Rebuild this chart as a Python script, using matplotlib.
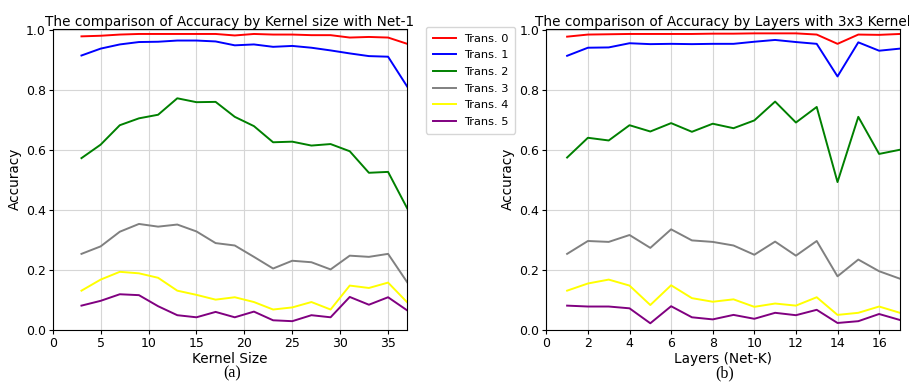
import matplotlib
matplotlib.use("Agg")
import matplotlib.pyplot as plt

# Kernel sizes (left panel) and layers (right panel)
kernel_sizes = [3, 5, 7, 9, 11, 13, 15, 17, 19, 21, 23, 25, 27, 29, 31, 33, 35, 37]
layers = list(range(1, 18))

series_names = ["Trans. 0", "Trans. 1", "Trans. 2", "Trans. 3", "Trans. 4", "Trans. 5"]
series_colors = ["red", "blue", "green", "gray", "yellow", "purple"]

# Accuracy by kernel size with Net-1
kernel_t0 = [0.980, 0.982, 0.986, 0.988, 0.988, 0.988, 0.988, 0.988, 0.983, 0.988,
             0.986, 0.986, 0.984, 0.984, 0.976, 0.978, 0.976, 0.955]
kernel_t1 = [0.916, 0.939, 0.953, 0.961, 0.962, 0.966, 0.966, 0.963, 0.950, 0.953,
             0.945, 0.948, 0.942, 0.933, 0.923, 0.914, 0.912, 0.812]
kernel_t2 = [0.573, 0.618, 0.683, 0.706, 0.718, 0.773, 0.760, 0.761, 0.711, 0.680,
             0.626, 0.628, 0.615, 0.620, 0.596, 0.524, 0.527, 0.405]
kernel_t3 = [0.253, 0.278, 0.327, 0.353, 0.344, 0.351, 0.328, 0.289, 0.281, 0.243,
             0.204, 0.230, 0.225, 0.201, 0.247, 0.243, 0.253, 0.158]
kernel_t4 = [0.130, 0.167, 0.193, 0.188, 0.173, 0.130, 0.116, 0.100, 0.108, 0.092,
             0.067, 0.074, 0.092, 0.067, 0.147, 0.139, 0.157, 0.091]
kernel_t5 = [0.080, 0.096, 0.118, 0.115, 0.078, 0.048, 0.041, 0.059, 0.041, 0.060,
             0.031, 0.028, 0.048, 0.041, 0.109, 0.083, 0.108, 0.064]

# Accuracy by layers with 3x3 kernel
layer_t0 = [0.979, 0.986, 0.987, 0.988, 0.988, 0.988, 0.988, 0.989, 0.989, 0.990,
            0.990, 0.990, 0.986, 0.955, 0.986, 0.985, 0.988]
layer_t1 = [0.915, 0.942, 0.943, 0.957, 0.954, 0.955, 0.954, 0.955, 0.955, 0.962,
            0.968, 0.961, 0.955, 0.846, 0.960, 0.932, 0.939]
layer_t2 = [0.575, 0.641, 0.632, 0.683, 0.662, 0.690, 0.661, 0.688, 0.673, 0.699,
            0.762, 0.692, 0.744, 0.493, 0.711, 0.587, 0.601]
layer_t3 = [0.253, 0.296, 0.293, 0.316, 0.273, 0.335, 0.298, 0.293, 0.281, 0.250,
            0.294, 0.247, 0.296, 0.178, 0.234, 0.195, 0.170]
layer_t4 = [0.130, 0.154, 0.167, 0.147, 0.082, 0.148, 0.105, 0.093, 0.101, 0.076,
            0.087, 0.080, 0.108, 0.049, 0.056, 0.077, 0.056]
layer_t5 = [0.080, 0.077, 0.077, 0.071, 0.021, 0.078, 0.041, 0.034, 0.049, 0.036,
            0.056, 0.048, 0.066, 0.022, 0.028, 0.052, 0.032]

kernel_data = [kernel_t0, kernel_t1, kernel_t2, kernel_t3, kernel_t4, kernel_t5]
layer_data = [layer_t0, layer_t1, layer_t2, layer_t3, layer_t4, layer_t5]

fig = plt.figure(figsize=(9.09, 3.85), dpi=100)
ax1 = fig.add_axes([0.058, 0.144, 0.390, 0.781])
ax2 = fig.add_axes([0.601, 0.144, 0.389, 0.781])

# Left panel
for vals, name, col in zip(kernel_data, series_names, series_colors):
    ax1.plot(kernel_sizes, vals, color=col, lw=1.4, label=name)
ax1.set_xlim(0, 37)
ax1.set_xticks([0, 5, 10, 15, 20, 25, 30, 35])
ax1.set_title("The comparison of Accuracy by Kernel size with Net-1", fontsize=9.8, pad=2)
ax1.set_xlabel("Kernel Size", fontsize=9.8, labelpad=2)

# Right panel
for vals, name, col in zip(layer_data, series_names, series_colors):
    ax2.plot(layers, vals, color=col, lw=1.4, label=name)
ax2.set_xlim(0, 17)
ax2.set_xticks(range(0, 17, 2))
ax2.set_title("The comparison of Accuracy by Layers with 3x3 Kernel", fontsize=9.8, pad=2)
ax2.set_xlabel("Layers (Net-K)", fontsize=9.8, labelpad=2)

for ax in (ax1, ax2):
    ax.set_ylim(0, 1.005)
    ax.set_yticks([0.0, 0.2, 0.4, 0.6, 0.8, 1.0])
    ax.set_ylabel("Accuracy", fontsize=9.8, labelpad=3)
    ax.grid(True, color="#d6d6d6", lw=0.8)
    ax.tick_params(labelsize=9, length=3, pad=2)
    for sp in ax.spines.values():
        sp.set_linewidth(0.8)

# Legend between the two panels
handles, labels = ax1.get_legend_handles_labels()
fig.legend(handles, labels, loc="upper left", bbox_to_anchor=(426 / 909, 1 - 27 / 385),
           borderaxespad=0, fontsize=8.2, handlelength=2.0, handletextpad=0.7,
           labelspacing=0.58, borderpad=0.6)

# Sub-captions
fig.text(232 / 909, 1 - 373 / 385, "(a)", ha="center", va="center", fontsize=11.5,
         family="Liberation Serif")
fig.text(725 / 909, 1 - 373 / 385, "(b)", ha="center", va="center", fontsize=11.5,
         family="Liberation Serif")

fig.savefig("out.png", dpi=100)
